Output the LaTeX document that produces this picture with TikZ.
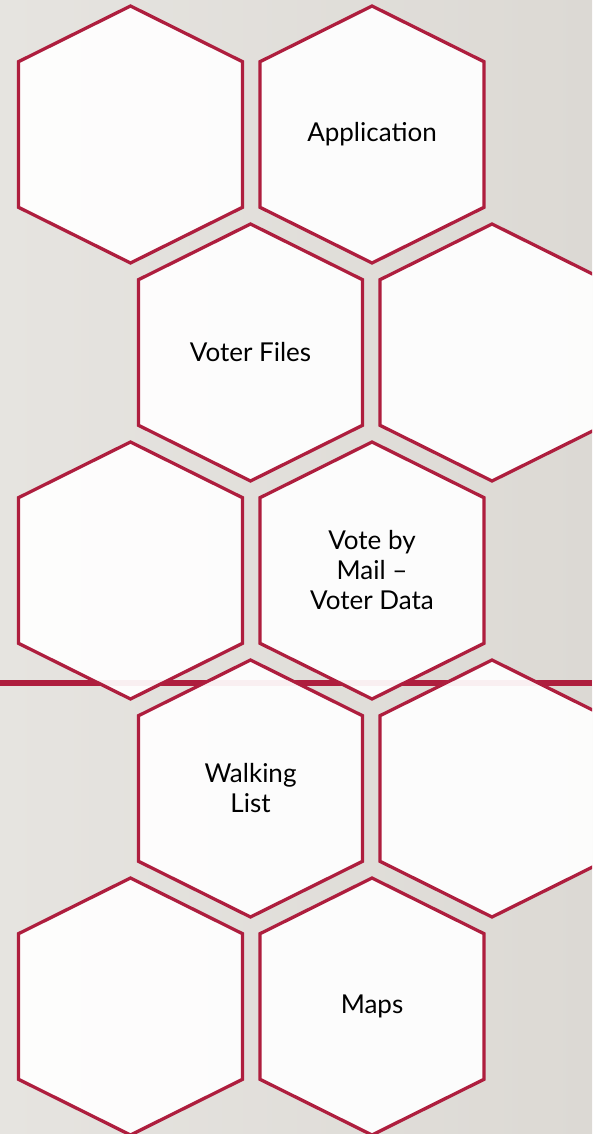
\documentclass[tikz,border=0pt]{standalone}
\usepackage{fontspec}
\setmainfont{Lato}
\definecolor{hexred}{RGB}{174,30,62}
\definecolor{bgL}{RGB}{230,228,224}
\definecolor{bgR}{RGB}{220,217,212}
\newcommand\hexcell[4]{%
  \path[hexcell] (#2,#3-128.5) -- (#2+112,#3-72.8) -- (#2+112,#3+72.8) --
    (#2,#3+128.5) -- (#2-112,#3+72.8) -- (#2-112,#3-72.8) -- cycle;
  \node[lbl] (#1) at (#2,#3) {#4};}
\begin{document}
\begin{tikzpicture}[x=1pt,y=-1pt,
  hexcell/.style={draw=hexred,line width=3.3pt,fill=white,fill opacity=0.93,line join=miter},
  lbl/.style={font=\fontsize{26}{30}\selectfont,align=center,text=black,inner sep=0pt},
  redline/.style={draw=hexred,line width=6.5pt}]
\useasboundingbox (0,0) rectangle (592,1134);
\clip (0,0) rectangle (592,1134);
\shade[left color=bgL,right color=bgR] (0,0) rectangle (592,1134);
\coordinate (lineL) at (0,683);
\coordinate (lineR) at (592,683);
\draw[redline] (lineL) -- (lineR);
% row 1
\hexcell{h11}{130.5}{134.5}{}
\hexcell{h12}{372}{134.5}{Application}
% row 2
\hexcell{h21}{250.5}{352.5}{Voter Files}
\hexcell{h22}{492}{352.5}{}
% row 3
\hexcell{h31}{130.5}{570.5}{}
\hexcell{h32}{372}{570.5}{Vote by\\Mail –\\Voter Data}
% row 4
\hexcell{h41}{250.5}{788.5}{Walking\\List}
\hexcell{h42}{492}{788.5}{}
% row 5
\hexcell{h51}{130.5}{1006.5}{}
\hexcell{h52}{372}{1006.5}{Maps}
\end{tikzpicture}
\end{document}
